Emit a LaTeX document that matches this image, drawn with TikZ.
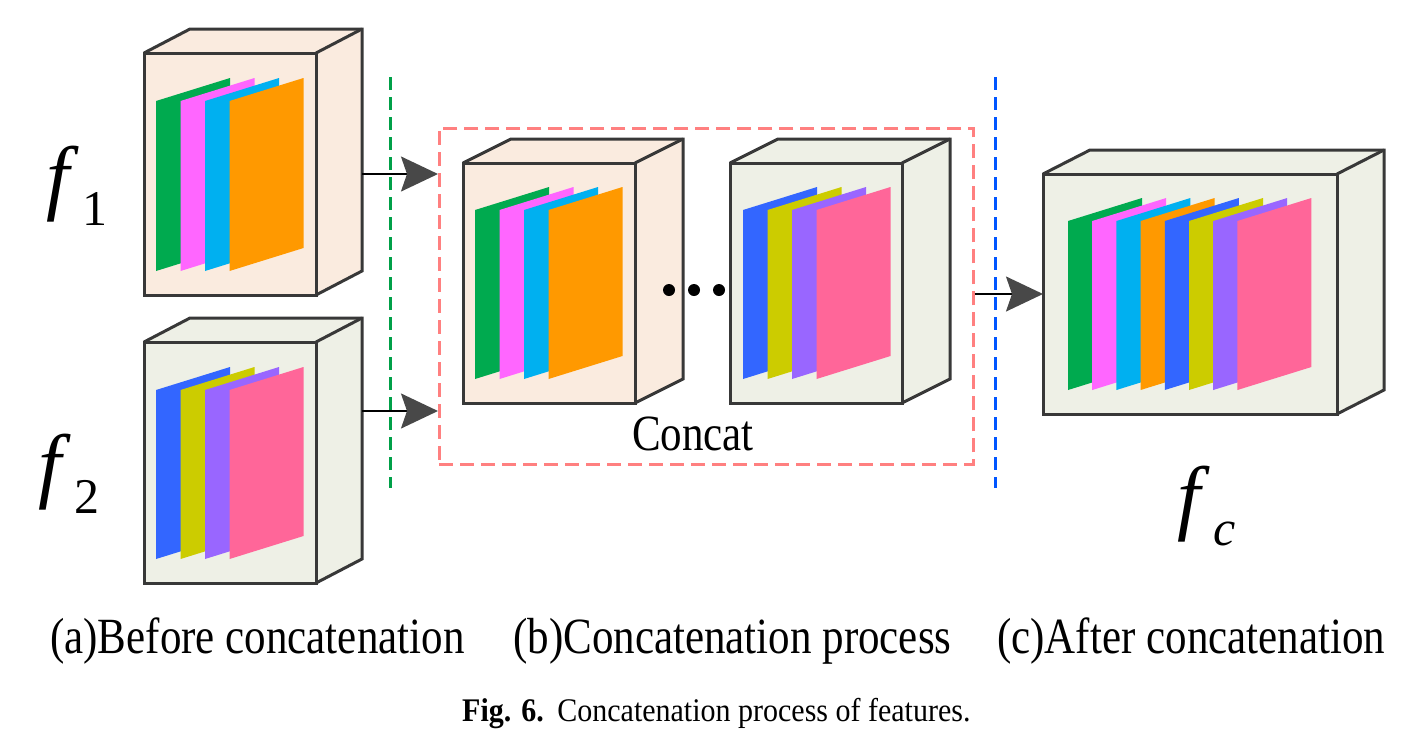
\documentclass[tikz,border=0pt]{standalone}
\usepackage{fontspec}
\setmainfont{Liberation Serif}
\usetikzlibrary{arrows.meta}
\definecolor{edgegray}{HTML}{383838}
\definecolor{arrowgray}{HTML}{484848}
\definecolor{peach}{HTML}{FAEBDF}
\definecolor{pale}{HTML}{EEF0E6}
\definecolor{sgreen}{HTML}{00AA4F}
\definecolor{spink}{HTML}{FF66FF}
\definecolor{scyan}{HTML}{00B0F0}
\definecolor{sorange}{HTML}{FF9900}
\definecolor{sblue}{HTML}{3366FF}
\definecolor{syellow}{HTML}{CCCC00}
\definecolor{spurple}{HTML}{9966FF}
\definecolor{srose}{HTML}{FF6699}
\definecolor{boxred}{HTML}{FF8080}
\definecolor{linegreen}{HTML}{00A048}
\definecolor{lineblue}{HTML}{0055FF}
\tikzset{
  cubeedge/.style={draw=edgegray, line width=3pt, line join=miter},
  sepline/.style={line width=3pt, dash pattern=on 13pt off 7pt},
  feedarrow/.style={draw=black, line width=2pt, -{Stealth[length=37pt,width=35pt,inset=6pt,color=arrowgray]}},
  lbl/.style={inner sep=0pt, font=\fontsize{43pt}{43pt}\selectfont},
  flabel/.style={inner sep=0pt, font=\fontsize{83pt}{83pt}\selectfont},
}
\newcommand\drawcube[6]{% x y w h depthx fill
  \fill[#6] (#1,#2) -- ++(#5,-24) -- ++(#3,0) -- ++(0,#4) -- ++(-#5,24) -- ++(-#3,0) -- cycle;
  \draw[cubeedge] (#1,#2) rectangle ++(#3,#4);
  \draw[cubeedge] (#1,#2) -- ++(#5,-24) -- ++(#3,0) -- ++(0,#4) -- ++(-#5,24);
  \draw[cubeedge] (#1+#3,#2) -- ++(#5,-24);
}
\newcommand\sheet[4]{% L T H colour
  \fill[#4] (#1,#2) -- ++(74,-23) -- ++(0,#3) -- ++(-74,23) -- cycle;
}
\newcommand\fsub[1]{{\itshape f}\kern0.16em\raisebox{-0.26em}{\fontsize{50pt}{50pt}\selectfont #1}}
\newcommand\tall[1]{\scalebox{1}[1.18]{#1}}
\begin{document}
\begin{tikzpicture}[x=1pt,y=-1pt]
\useasboundingbox (0,0) rectangle (1426,748);
% input cube 1
\drawcube{144}{53}{172}{242}{46}{peach}
\foreach \c [count=\i from 0] in {sgreen,spink,scyan,sorange} {\sheet{156+\i*24.5}{101}{170}{\c}}
% input cube 2
\drawcube{144}{342}{172}{241}{46}{pale}
\foreach \c [count=\i from 0] in {sblue,syellow,spurple,srose} {\sheet{156+\i*24.5}{390}{169}{\c}}
% concat cubes
\drawcube{463}{163}{172}{240}{48}{peach}
\foreach \c [count=\i from 0] in {sgreen,spink,scyan,sorange} {\sheet{475+\i*24.5}{210}{169}{\c}}
\drawcube{730}{163}{172}{240}{48}{pale}
\foreach \c [count=\i from 0] in {sblue,syellow,spurple,srose} {\sheet{743+\i*24.5}{210}{169}{\c}}
% output cube
\drawcube{1043}{174}{294}{240}{47}{pale}
\foreach \c [count=\i from 0] in {sgreen,spink,scyan,sorange,sblue,syellow,spurple,srose} {\sheet{1068+\i*24.2}{221}{169}{\c}}
% dots
\foreach \dx in {669,694,719} {\fill (\dx,290) circle (6);}
% separators
\draw[sepline, linegreen] (390,77) -- (390,488);
\draw[sepline, lineblue] (995,77) -- (995,488);
% concat box
\node[draw=boxred, line width=2.5pt, dash pattern=on 14pt off 7pt, minimum width=534pt, minimum height=336pt, inner sep=0pt, anchor=north west] (concatbox) at (438,127) {};
\node[lbl, anchor=base] (concatlbl) at (693,450) {\tall{Concat}};
% connectors
\coordinate (cubeAout) at (362,174);
\coordinate (cubeBout) at (362,411);
\coordinate (outin) at (1043,294);
\draw[feedarrow] (cubeAout) -- (concatbox.west |- cubeAout);
\draw[feedarrow] (cubeBout) -- (concatbox.west |- cubeBout);
\draw[feedarrow] (concatbox.east |- outin) -- (outin);
% f labels
\node[flabel, anchor=base west] (f1) at (46,204) {\fsub{1}};
\node[flabel, anchor=base west] (f2) at (38,492) {\fsub{2}};
\node[flabel, anchor=base west] (fc) at (1177,524) {\fsub{\itshape c}};
% section labels
\node[lbl, anchor=base west] (la) at (50,653) {\tall{(a)Before concatenation}};
\node[lbl, anchor=base west] (lb) at (513,653) {\tall{(b)Concatenation process}};
\node[lbl, anchor=base west] (lc) at (997,653) {\tall{(c)After concatenation}};
% caption
\node[inner sep=0pt, anchor=base west, font=\fontsize{30pt}{30pt}\selectfont] (cap) at (462,721) {\scalebox{1}[1.1]{\textbf{Fig. 6.}\hspace{0.45em}Concatenation process of features.}};
\end{tikzpicture}
\end{document}
